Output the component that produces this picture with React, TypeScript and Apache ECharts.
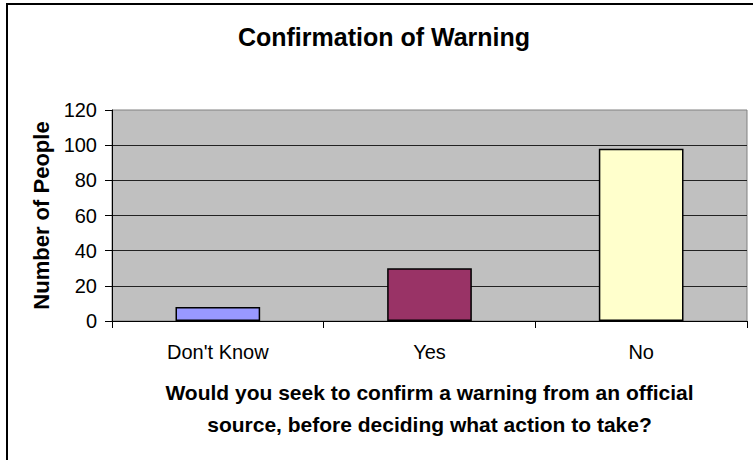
import React, { useEffect, useRef } from "react";
import * as echarts from "echarts";

const TITLE = "Confirmation of Warning";
const categories = ["Don't Know", "Yes", "No"];
const values = [8, 30, 98];
const barColors = ["#9999FF", "#993366", "#FFFFCC"];
const yTicks = { min: 0, max: 120, interval: 20 };
const Y_NAME = "Number of People";
const X_NAME = "Would you seek to confirm a warning from an official\nsource, before deciding what action to take?";

const FONT = "'Liberation Sans', Arial, sans-serif";

export default function App() {
  const ref = useRef<HTMLDivElement>(null);
  useEffect(() => {
    if (!ref.current) return;
    const chart = echarts.init(ref.current, undefined, { renderer: "svg" });
    chart.setOption({
      animation: false,
      backgroundColor: "#ffffff",
      textStyle: { fontFamily: FONT },
      graphic: [
        {
          type: "rect",
          shape: { x: 7, y: 4, width: 800, height: 500 },
          style: { fill: "none", stroke: "#000", lineWidth: 2 },
          z: 100,
        },
        {
          type: "text",
          x: 384,
          y: 24,
          style: {
            text: TITLE,
            font: `bold 25px ${FONT}`,
            fill: "#000",
            textAlign: "center",
            textVerticalAlign: "top",
          },
        },
      ],
      grid: {
        left: 112,
        right: 6,
        top: 110,
        bottom: 139,
        show: true,
        backgroundColor: "#C0C0C0",
        borderColor: "#808080",
        borderWidth: 1,
        containLabel: false,
      },
      xAxis: {
        type: "category",
        data: categories,
        axisLine: { show: true, lineStyle: { color: "#000", width: 1 } },
        axisTick: { show: true, length: 7, lineStyle: { color: "#000" } },
        axisLabel: { fontSize: 20, color: "#000", margin: 21, fontFamily: FONT },
        name: X_NAME,
        nameLocation: "middle",
        nameGap: 55,
        nameTextStyle: {
          fontSize: 21,
          fontWeight: "bold",
          color: "#000",
          lineHeight: 32,
          align: "center",
          fontFamily: FONT,
        },
      },
      yAxis: {
        type: "value",
        min: yTicks.min,
        max: yTicks.max,
        interval: yTicks.interval,
        axisLine: { show: true, lineStyle: { color: "#000", width: 1 } },
        axisTick: { show: true, length: 7, lineStyle: { color: "#000" } },
        axisLabel: { fontSize: 20, color: "#000", margin: 15, fontFamily: FONT },
        splitLine: {
          show: true,
          showMaxLine: false,
          lineStyle: { color: "#222", width: 1 },
        },
        name: Y_NAME,
        nameLocation: "middle",
        nameGap: 58,
        nameRotate: 90,
        nameTextStyle: {
          fontSize: 22,
          fontWeight: "bold",
          color: "#000",
          fontFamily: FONT,
        },
      },
      series: [
        {
          type: "bar",
          barWidth: "40%",
          data: values.map((v, i) => ({
            value: v,
            itemStyle: { color: barColors[i] },
          })),
          itemStyle: { borderColor: "#000", borderWidth: 1.5 },
        },
      ],
    });
    return () => chart.dispose();
  }, []);
  return (
    <div
      ref={ref}
      style={{ position: "fixed", left: 0, top: 0, width: 753, height: 460 }}
    />
  );
}
